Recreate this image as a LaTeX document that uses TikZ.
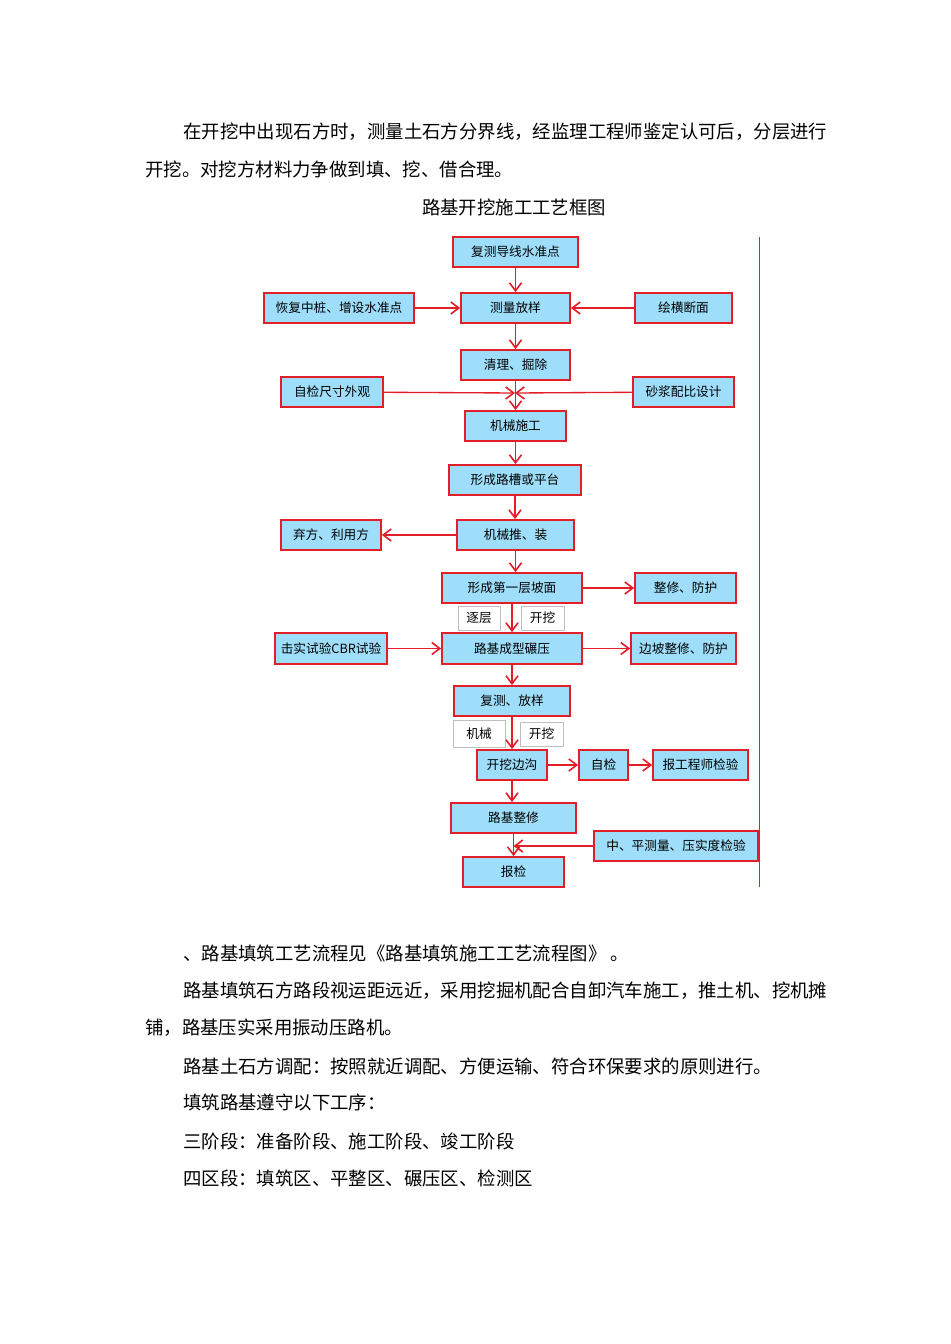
\documentclass[tikz,border=0pt]{standalone}
\usepackage{fontspec}
\setmainfont{Noto Sans CJK SC}
\usetikzlibrary{arrows.meta}
\definecolor{rd}{RGB}{228,30,40}
\definecolor{bl}{RGB}{158,222,250}
\tikzset{
  box/.style={draw=rd,fill=bl,line width=1.3pt,inner sep=0pt,font=\fontsize{9.5}{10}\selectfont},
  lbl/.style={draw=black!25,fill=white,line width=0.4pt,inner sep=0pt,font=\fontsize{9.5}{10}\selectfont},
  arr/.style={draw=rd,line width=1pt,-{Straight Barb[length=6pt,width=9pt,line width=1.2pt]}},
  para/.style={anchor=west,inner sep=0pt,font=\fontsize{13.8}{14}\selectfont}
}
\newcommand{\bx}[7][box]{\node[#1,minimum width={(#5-#3)*0.75pt},minimum height={(#6-#4)*0.75pt}] (#2) at ({(#3+#5)/2},{(#4+#6)/2}) {#7};}
\begin{document}
\begin{tikzpicture}[x=0.75pt,y=-0.75pt]
\useasboundingbox (0,0) rectangle (950,1344);
\fill[white] (0,0) rectangle (950,1344);
\node[para] (p1) at (183,132) {在开挖中出现石方时，测量土石方分界线，经监理工程师鉴定认可后，分层进行};
\node[para] (p2) at (145,169) {开挖。对挖方材料力争做到填、挖、借合理。};
\node[inner sep=0pt,font=\fontsize{13.8}{14}\selectfont] (title) at (514,207) {路基开挖施工工艺框图};
\bx{a}{453}{237}{578}{267}{复测导线水准点}
\bx{b1}{264}{293}{414}{323}{恢复中桩、增设水准点}
\bx{b}{461}{293}{570}{323}{测量放样}
\bx{b2}{635}{293}{732}{323}{绘横断面}
\bx{c}{461}{350}{570}{380}{清理、掘除}
\bx{c1}{281}{377}{383}{407}{自检尺寸外观}
\bx{c2}{633}{377}{734}{407}{砂浆配比设计}
\bx{d}{465}{411}{566}{441}{机械施工}
\bx{e}{449}{465}{581}{495}{形成路槽或平台}
\bx{f1}{281}{520}{381}{550}{弃方、利用方}
\bx{f}{457}{520}{574}{550}{机械推、装}
\bx{g}{442}{573}{582}{603}{形成第一层坡面}
\bx{g2}{635}{573}{736}{603}{整修、防护}
\bx[lbl]{l1}{458}{606}{500}{630}{逐层}
\bx[lbl]{l2}{521}{606}{564}{630}{开挖}
\bx{h1}{275}{633}{387}{664}{击实试验CBR试验}
\bx{h}{442}{633}{582}{664}{路基成型碾压}
\bx{h2}{631}{633}{736}{664}{边坡整修、防护}
\bx{i}{454}{686}{570}{716}{复测、放样}
\bx[lbl]{l3}{453}{720}{505}{747}{机械}
\bx[lbl]{l4}{520}{722}{563}{746}{开挖}
\bx{j}{477}{750}{547}{780}{开挖边沟}
\bx{j2}{579}{750}{628}{780}{自检}
\bx{j3}{653}{750}{748}{780}{报工程师检验}
\bx{k}{451}{803}{576}{833}{路基整修}
\bx{k2}{594}{831}{758}{861}{中、平测量、压实度检验}
\bx{m}{463}{857}{564}{887}{报检}
\coordinate (vt) at (759,237);
\coordinate (vb) at (759,887);
\draw[rd,line width=0.6pt] (vt) -- (vb);
\draw[arr] (a.south) -- (a.south |- b.north);
\draw[arr] (b1) -- (b);
\draw[arr] (b2) -- (b);
\draw[arr] (b.south) -- (b.south |- c.north);
\draw[arr] (c.south) -- (c.south |- d.north);
\coordinate (mg) at (515,393);
\draw[arr] (c1) -- (mg);
\draw[arr] (c2) -- (mg);
\draw[arr] (d.south) -- (d.south |- e.north);
\draw[arr] (e.south) -- (e.south |- f.north);
\draw[arr] (f) -- (f1);
\draw[arr] (f.south) -- (f.south |- g.north);
\draw[arr] (g) -- (g2);
\draw[arr] (g.south) -- (g.south |- h.north);
\draw[arr] (h1) -- (h);
\draw[arr] (h) -- (h2);
\draw[arr] (h.south) -- (h.south |- i.north);
\draw[arr] (i.south) -- (i.south |- j.north);
\draw[arr] (j) -- (j2);
\draw[arr] (j2) -- (j3);
\draw[arr] (j.south) -- (j.south |- k.north);
\draw[arr] (k.south) -- (k.south |- m.north);
\draw[arr] (k2.west) -- (k2.west -| k.south);
\node[para] (q1) at (183,953) {、路基填筑工艺流程见《路基填筑施工工艺流程图》 。};
\node[para] (q2) at (183,991) {路基填筑石方路段视运距远近，采用挖掘机配合自卸汽车施工，推土机、挖机摊};
\node[para] (q3) at (145,1028) {铺，路基压实采用振动压路机。};
\node[para] (q4) at (183,1066) {路基土石方调配：按照就近调配、方便运输、符合环保要求的原则进行。};
\node[para] (q5) at (183,1103) {填筑路基遵守以下工序：};
\node[para] (q6) at (183,1141) {三阶段：准备阶段、施工阶段、竣工阶段};
\node[para] (q7) at (183,1178) {四区段：填筑区、平整区、碾压区、检测区};
\end{tikzpicture}
\end{document}
